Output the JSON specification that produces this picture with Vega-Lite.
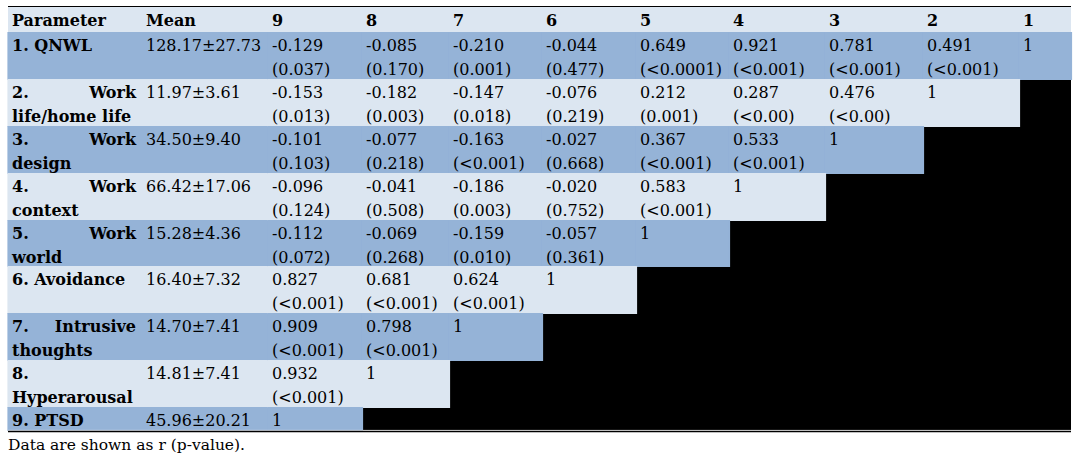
{
  "$schema": "https://vega.github.io/schema/vega-lite/v6.json",
  "width": 1078,
  "height": 458,
  "padding": 0,
  "autosize": {"type": "none"},
  "background": "white",
  "config": {"view": {"stroke": null}},
  "datasets": {
    "header": [
      {"col": 0, "label": "Parameter"},
      {"col": 1, "label": "Mean"},
      {"col": 2, "label": "9"},
      {"col": 3, "label": "8"},
      {"col": 4, "label": "7"},
      {"col": 5, "label": "6"},
      {"col": 6, "label": "5"},
      {"col": 7, "label": "4"},
      {"col": 8, "label": "3"},
      {"col": 9, "label": "2"},
      {"col": 10, "label": "1"}
    ],
    "params": [
      {"row": 1, "lead": "1. QNWL", "tail": "", "line2": "", "mean": "128.17±27.73"},
      {"row": 2, "lead": "2.", "tail": "Work", "line2": "life/home life", "mean": "11.97±3.61"},
      {"row": 3, "lead": "3.", "tail": "Work", "line2": "design", "mean": "34.50±9.40"},
      {"row": 4, "lead": "4.", "tail": "Work", "line2": "context", "mean": "66.42±17.06"},
      {"row": 5, "lead": "5.", "tail": "Work", "line2": "world", "mean": "15.28±4.36"},
      {"row": 6, "lead": "6. Avoidance", "tail": "", "line2": "", "mean": "16.40±7.32"},
      {"row": 7, "lead": "7.", "tail": "Intrusive", "line2": "thoughts", "mean": "14.70±7.41"},
      {"row": 8, "lead": "8.", "tail": "", "line2": "Hyperarousal", "mean": "14.81±7.41"},
      {"row": 9, "lead": "9. PTSD", "tail": "", "line2": "", "mean": "45.96±20.21"}
    ],
    "cells": [
      {"row": 1, "col": 2, "r": "-0.129", "p": "(0.037)"},
      {"row": 1, "col": 3, "r": "-0.085", "p": "(0.170)"},
      {"row": 1, "col": 4, "r": "-0.210", "p": "(0.001)"},
      {"row": 1, "col": 5, "r": "-0.044", "p": "(0.477)"},
      {"row": 1, "col": 6, "r": "0.649", "p": "(<0.0001)"},
      {"row": 1, "col": 7, "r": "0.921", "p": "(<0.001)"},
      {"row": 1, "col": 8, "r": "0.781", "p": "(<0.001)"},
      {"row": 1, "col": 9, "r": "0.491", "p": "(<0.001)"},
      {"row": 1, "col": 10, "r": "1", "p": ""},
      {"row": 2, "col": 2, "r": "-0.153", "p": "(0.013)"},
      {"row": 2, "col": 3, "r": "-0.182", "p": "(0.003)"},
      {"row": 2, "col": 4, "r": "-0.147", "p": "(0.018)"},
      {"row": 2, "col": 5, "r": "-0.076", "p": "(0.219)"},
      {"row": 2, "col": 6, "r": "0.212", "p": "(0.001)"},
      {"row": 2, "col": 7, "r": "0.287", "p": "(<0.00)"},
      {"row": 2, "col": 8, "r": "0.476", "p": "(<0.00)"},
      {"row": 2, "col": 9, "r": "1", "p": ""},
      {"row": 3, "col": 2, "r": "-0.101", "p": "(0.103)"},
      {"row": 3, "col": 3, "r": "-0.077", "p": "(0.218)"},
      {"row": 3, "col": 4, "r": "-0.163", "p": "(<0.001)"},
      {"row": 3, "col": 5, "r": "-0.027", "p": "(0.668)"},
      {"row": 3, "col": 6, "r": "0.367", "p": "(<0.001)"},
      {"row": 3, "col": 7, "r": "0.533", "p": "(<0.001)"},
      {"row": 3, "col": 8, "r": "1", "p": ""},
      {"row": 4, "col": 2, "r": "-0.096", "p": "(0.124)"},
      {"row": 4, "col": 3, "r": "-0.041", "p": "(0.508)"},
      {"row": 4, "col": 4, "r": "-0.186", "p": "(0.003)"},
      {"row": 4, "col": 5, "r": "-0.020", "p": "(0.752)"},
      {"row": 4, "col": 6, "r": "0.583", "p": "(<0.001)"},
      {"row": 4, "col": 7, "r": "1", "p": ""},
      {"row": 5, "col": 2, "r": "-0.112", "p": "(0.072)"},
      {"row": 5, "col": 3, "r": "-0.069", "p": "(0.268)"},
      {"row": 5, "col": 4, "r": "-0.159", "p": "(0.010)"},
      {"row": 5, "col": 5, "r": "-0.057", "p": "(0.361)"},
      {"row": 5, "col": 6, "r": "1", "p": ""},
      {"row": 6, "col": 2, "r": "0.827", "p": "(<0.001)"},
      {"row": 6, "col": 3, "r": "0.681", "p": "(<0.001)"},
      {"row": 6, "col": 4, "r": "0.624", "p": "(<0.001)"},
      {"row": 6, "col": 5, "r": "1", "p": ""},
      {"row": 7, "col": 2, "r": "0.909", "p": "(<0.001)"},
      {"row": 7, "col": 3, "r": "0.798", "p": "(<0.001)"},
      {"row": 7, "col": 4, "r": "1", "p": ""},
      {"row": 8, "col": 2, "r": "0.932", "p": "(<0.001)"},
      {"row": 8, "col": 3, "r": "1", "p": ""},
      {"row": 9, "col": 2, "r": "1", "p": ""}
    ],
    "one": [{"note": "Data are shown as r (p-value)."}]
  },
  "layer": [
    {
      "data": {"name": "one"},
      "mark": {"type": "rect", "fill": "#dce6f1", "strokeWidth": 0},
      "encoding": {
        "x": {"datum": 0, "type": "quantitative", "axis": null, "scale": {"type": "linear", "domain": [0,1,2,3,4,5,6,7,8,9,10,11], "range": [8,142,268,362,449,542,636,729,825,923,1019,1071], "nice": false, "zero": false}},
        "x2": {"datum": 11},
        "y": {"datum": 0, "type": "quantitative", "axis": null, "scale": {"type": "linear", "domain": [0,1,2,3,4,5,6,7,8,9,10], "range": [7,32,79,126,173,220,266,313,360,407,430], "nice": false, "zero": false}},
        "y2": {"datum": 1}
      }
    },
    {
      "data": {"name": "params"},
      "mark": {"type": "rect", "strokeWidth": 1.2, "binSpacing": 0},
      "encoding": {
        "x": {"datum": 0, "type": "quantitative", "axis": null},
        "x2": {"datum": 2},
        "y": {"field": "row", "type": "quantitative", "bin": {"step": 1, "extent": [0, 10]}, "axis": null},
        "fill": {"condition": {"test": "datum.row % 2 === 1", "value": "#95b3d7"}, "value": "#dce6f1"},
        "stroke": {"condition": {"test": "datum.row % 2 === 1", "value": "#95b3d7"}, "value": "#dce6f1"}
      }
    },
    {
      "data": {"name": "one"},
      "mark": {"type": "rect", "fill": "#000000", "strokeWidth": 0},
      "encoding": {
        "x": {"datum": 2, "type": "quantitative", "axis": null},
        "x2": {"datum": 11},
        "y": {"datum": 1, "type": "quantitative", "axis": null},
        "y2": {"datum": 10}
      }
    },
    {
      "data": {"name": "cells"},
      "mark": {"type": "rect", "strokeWidth": 1.2, "binSpacing": 0},
      "encoding": {
        "x": {"field": "col", "type": "quantitative", "bin": {"step": 1, "extent": [0, 11]}, "axis": null},
        "y": {"field": "row", "type": "quantitative", "bin": {"step": 1, "extent": [0, 10]}, "axis": null},
        "fill": {"condition": {"test": "datum.row % 2 === 1", "value": "#95b3d7"}, "value": "#dce6f1"},
        "stroke": {"condition": {"test": "datum.row % 2 === 1", "value": "#95b3d7"}, "value": "#dce6f1"}
      }
    },
    {
      "data": {"name": "one"},
      "mark": {"type": "rule", "color": "#000000", "strokeWidth": 1, "yOffset": -0.5},
      "encoding": {
        "x": {"datum": 0, "type": "quantitative", "axis": null},
        "x2": {"datum": 11},
        "y": {"datum": 0, "type": "quantitative", "axis": null}
      }
    },
    {
      "data": {"name": "one"},
      "mark": {"type": "rule", "color": "#ffffff", "strokeWidth": 0.8, "yOffset": 0.4},
      "encoding": {
        "x": {"datum": 0, "type": "quantitative", "axis": null},
        "x2": {"datum": 11},
        "y": {"datum": 10, "type": "quantitative", "axis": null}
      }
    },
    {
      "data": {"name": "one"},
      "mark": {"type": "rule", "color": "#000000", "strokeWidth": 1.5, "yOffset": 1.6},
      "encoding": {
        "x": {"datum": 0, "type": "quantitative", "axis": null},
        "x2": {"datum": 11},
        "y": {"datum": 10, "type": "quantitative", "axis": null}
      }
    },
    {
      "data": {"name": "header"},
      "mark": {"type": "text", "align": "left", "baseline": "alphabetic", "dx": 4, "dy": 19, "font": "DejaVu Serif", "fontSize": 16, "fontWeight": "bold", "color": "#000000"},
      "encoding": {
        "x": {"field": "col", "type": "quantitative", "axis": null},
        "y": {"datum": 0, "type": "quantitative", "axis": null},
        "text": {"field": "label"}
      }
    },
    {
      "data": {"name": "params"},
      "mark": {"type": "text", "align": "left", "baseline": "alphabetic", "dx": 4, "dy": 19, "font": "DejaVu Serif", "fontSize": 16, "fontWeight": "bold", "color": "#000000"},
      "encoding": {
        "x": {"datum": 0, "type": "quantitative", "axis": null},
        "y": {"field": "row", "type": "quantitative", "axis": null},
        "text": {"field": "lead"}
      }
    },
    {
      "data": {"name": "params"},
      "mark": {"type": "text", "align": "right", "baseline": "alphabetic", "dx": -6, "dy": 19, "font": "DejaVu Serif", "fontSize": 16, "fontWeight": "bold", "color": "#000000"},
      "encoding": {
        "x": {"datum": 1, "type": "quantitative", "axis": null},
        "y": {"field": "row", "type": "quantitative", "axis": null},
        "text": {"field": "tail"}
      }
    },
    {
      "data": {"name": "params"},
      "mark": {"type": "text", "align": "left", "baseline": "alphabetic", "dx": 4, "dy": 42.5, "font": "DejaVu Serif", "fontSize": 16, "fontWeight": "bold", "color": "#000000"},
      "encoding": {
        "x": {"datum": 0, "type": "quantitative", "axis": null},
        "y": {"field": "row", "type": "quantitative", "axis": null},
        "text": {"field": "line2"}
      }
    },
    {
      "data": {"name": "params"},
      "mark": {"type": "text", "align": "left", "baseline": "alphabetic", "dx": 4, "dy": 19, "font": "DejaVu Serif", "fontSize": 16, "color": "#000000"},
      "encoding": {
        "x": {"datum": 1, "type": "quantitative", "axis": null},
        "y": {"field": "row", "type": "quantitative", "axis": null},
        "text": {"field": "mean"}
      }
    },
    {
      "data": {"name": "cells"},
      "mark": {"type": "text", "align": "left", "baseline": "alphabetic", "dx": 4, "dy": 19, "font": "DejaVu Serif", "fontSize": 16, "color": "#000000"},
      "encoding": {
        "x": {"field": "col", "type": "quantitative", "axis": null},
        "y": {"field": "row", "type": "quantitative", "axis": null},
        "text": {"field": "r"}
      }
    },
    {
      "data": {"name": "cells"},
      "mark": {"type": "text", "align": "left", "baseline": "alphabetic", "dx": 4, "dy": 42.5, "font": "DejaVu Serif", "fontSize": 16, "color": "#000000"},
      "encoding": {
        "x": {"field": "col", "type": "quantitative", "axis": null},
        "y": {"field": "row", "type": "quantitative", "axis": null},
        "text": {"field": "p"}
      }
    },
    {
      "data": {"name": "one"},
      "mark": {"type": "text", "align": "left", "baseline": "alphabetic", "dx": 0, "dy": 20, "font": "DejaVu Serif", "fontSize": 15.5, "color": "#000000"},
      "encoding": {
        "x": {"datum": 0, "type": "quantitative", "axis": null},
        "y": {"datum": 10, "type": "quantitative", "axis": null},
        "text": {"field": "note"}
      }
    }
  ]
}
